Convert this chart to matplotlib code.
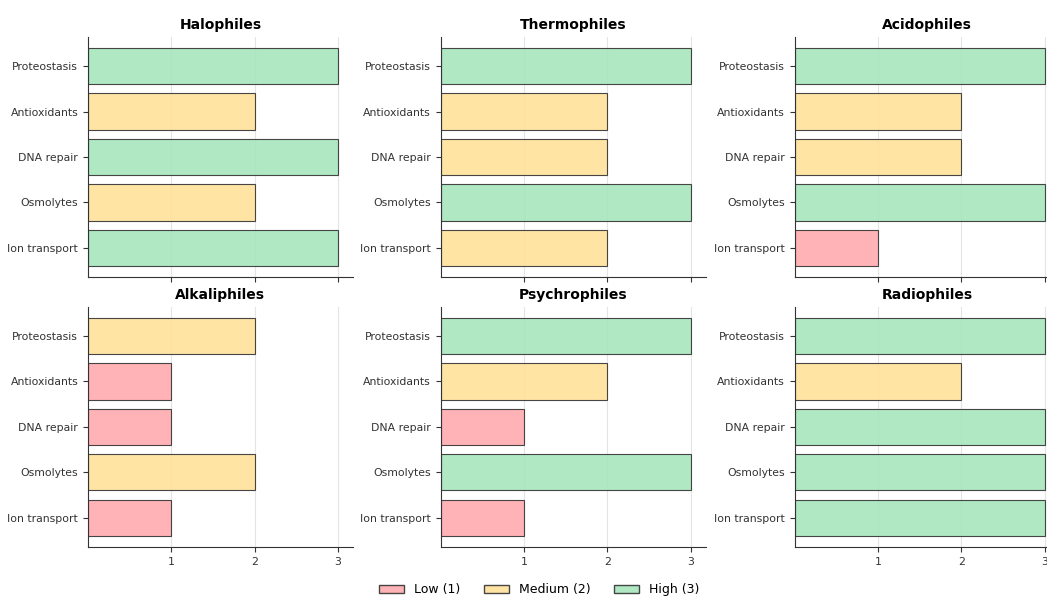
import numpy as np
import matplotlib.pyplot as plt
from matplotlib.patches import Patch

features = ['Proteostasis', 'Antioxidants', 'DNA repair', 'Osmolytes', 'Ion transport']
organisms = ['Halophiles', 'Thermophiles', 'Acidophiles',
             'Alkaliphiles', 'Psychrophiles', 'Radiophiles']
halophiles = [3, 2, 3, 2, 3]
thermophiles = [3, 2, 2, 3, 2]
acidophiles = [3, 2, 2, 3, 1]
alkaliphiles = [2, 1, 1, 2, 1]
psychrophiles = [3, 2, 1, 3, 1]
radiophiles = [3, 2, 3, 3, 3]
scores = [halophiles, thermophiles, acidophiles, alkaliphiles, psychrophiles, radiophiles]
level_names = ['Low (1)', 'Medium (2)', 'High (3)']
level_colors = {1: '#ffabae', 2: '#ffe29a', 3: '#a6e6bc'}

fig = plt.figure(figsize=(10.47, 5.97), dpi=100)
lefts = [0.084, 0.421, 0.759]
bottoms = [0.536, 0.084]
w, h = 0.253, 0.402

y = np.arange(len(features))
for i, (name, vals) in enumerate(zip(organisms, scores)):
    ax = fig.add_axes([lefts[i % 3], bottoms[i // 3], w, h])
    ax.grid(axis='x', color='#e4e4e4', linewidth=0.8, zorder=0)
    ax.barh(y, vals, height=0.8, color=[level_colors[v] for v in vals],
            edgecolor='#333333', linewidth=0.8, alpha=0.9, zorder=2)
    ax.set_axisbelow(True)
    ax.set_yticks(y)
    ax.set_yticklabels(features)
    ax.tick_params(labelsize=7.8, labelcolor='#333333', colors='#333333')
    ax.invert_yaxis()
    ax.set_xlim(0, 3.18)
    ax.set_xticks([1, 2, 3])
    if i < 3:
        ax.set_xticklabels([])
    for s in ['top', 'right']:
        ax.spines[s].set_visible(False)
    ax.spines['left'].set_color('#333333')
    ax.spines['bottom'].set_color('#333333')
    ax.set_title(name, fontsize=10, fontweight='bold', pad=6)

handles = [Patch(facecolor=level_colors[k], edgecolor='#333333', alpha=0.9, label=n)
           for k, n in zip([1, 2, 3], level_names)]
fig.legend(handles=handles, loc='lower center', ncol=3, frameon=False,
           fontsize=9, columnspacing=1.9, bbox_to_anchor=(0.515, -0.018))

plt.savefig('out.png', dpi=100)
